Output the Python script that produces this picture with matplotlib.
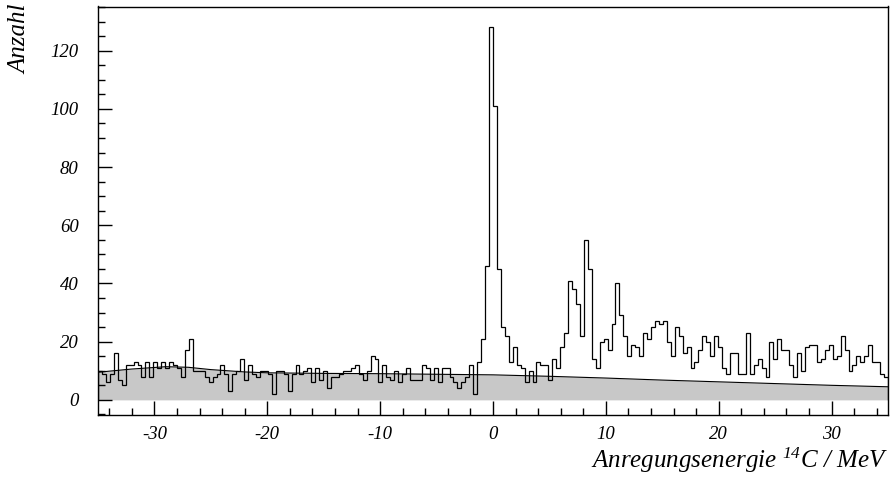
import numpy as np
import matplotlib
matplotlib.use("Agg")
import matplotlib.pyplot as plt
from matplotlib.ticker import MultipleLocator

plt.rcParams['font.family'] = ['Liberation Serif', 'DejaVu Serif']
plt.rcParams['font.style'] = 'italic'
plt.rcParams['mathtext.fontset'] = 'custom'
plt.rcParams['mathtext.rm'] = 'Liberation Serif:italic'
plt.rcParams['mathtext.it'] = 'Liberation Serif:italic'

# ---- data ----
e_min = -35.0
e_max = 35.0
n_bins = 200

counts = [
    10, 9, 6, 9, 16, 7, 5, 12, 12, 13,
    12, 8, 13, 8, 13, 11, 13, 11, 13, 12,
    11, 8, 17, 21, 10, 10, 10, 8, 6, 8,
    9, 12, 9, 3, 9, 10, 14, 7, 12, 9,
    8, 10, 10, 9, 2, 10, 10, 9, 3, 9,
    12, 9, 10, 11, 6, 11, 7, 10, 4, 8,
    8, 9, 10, 10, 11, 12, 9, 7, 10, 15,
    14, 6, 12, 8, 7, 10, 6, 9, 11, 7,
    7, 7, 12, 11, 7, 11, 6, 11, 11, 8,
    6, 4, 6, 8, 12, 2, 13, 21, 46, 128,
    101, 45, 25, 22, 13, 18, 12, 11, 6, 10,
    6, 13, 12, 12, 7, 14, 11, 18, 23, 41,
    38, 33, 22, 55, 45, 14, 11, 20, 21, 17,
    26, 40, 29, 22, 15, 19, 18, 15, 23, 21,
    25, 27, 26, 27, 20, 15, 25, 22, 16, 18,
    11, 13, 17, 22, 20, 15, 22, 18, 11, 9,
    16, 16, 9, 9, 23, 9, 12, 14, 11, 8,
    20, 14, 21, 17, 17, 12, 8, 16, 10, 18,
    19, 19, 13, 14, 17, 19, 14, 15, 22, 17,
    10, 12, 15, 13, 15, 19, 13, 13, 9, 8,
]

bg_energy = [-35, -32, -29, -27, -25, -22, -20, -15, -10, -5, 0, 5, 10, 15, 20, 25, 30, 35]
bg_counts = [9.5, 10.6, 11.4, 11.2, 10.4, 9.6, 9.3, 9.1, 9.0, 8.8, 8.6, 8.1, 7.5, 6.8, 6.2, 5.6, 5.0, 4.5]

x_ticks = [-30, -20, -10, 0, 10, 20, 30]
y_ticks = [0, 20, 40, 60, 80, 100, 120]

# ---- figure ----
fig = plt.figure(figsize=(8.92, 4.79), dpi=100)
ax = fig.add_axes([98 / 892, 1 - 415 / 479, 790 / 892, (415 - 6.5) / 479])

edges = np.linspace(e_min, e_max, n_bins + 1)

ax.fill_between(bg_energy, 0, bg_counts, color='#c8c8c8', linewidth=0, zorder=1)
ax.plot(bg_energy, bg_counts, color='black', linewidth=0.8, zorder=2)
ax.stairs(counts, edges, color='black', linewidth=0.9, zorder=3)

ax.set_xlim(e_min, e_max)
ax.set_ylim(-5.2, 135.2)

ax.set_xticks(x_ticks)
ax.set_yticks(y_ticks)
ax.set_xticklabels([str(t) for t in x_ticks])
ax.set_yticklabels([str(t) for t in y_ticks])
ax.xaxis.set_minor_locator(MultipleLocator(2))
ax.yaxis.set_minor_locator(MultipleLocator(5))

ax.tick_params(which='both', direction='in', top=False, right=False, width=1.0)
ax.tick_params(which='major', length=10)
ax.tick_params(which='minor', length=5)
ax.tick_params(axis='x', which='major', pad=8, labelsize=13.5)
ax.tick_params(axis='y', which='major', pad=14, labelsize=13.5)

for sp in ax.spines.values():
    sp.set_linewidth(1.0)

fig.text(20 / 892, 1 - 4 / 479, 'Anzahl', rotation=90, ha='center', va='top', fontsize=18)
fig.text(888 / 892, 1 - 468 / 479, r'Anregungsenergie $^{14}$C / MeV', ha='right', va='baseline', fontsize=18)

fig.savefig('out.png', dpi=100)
